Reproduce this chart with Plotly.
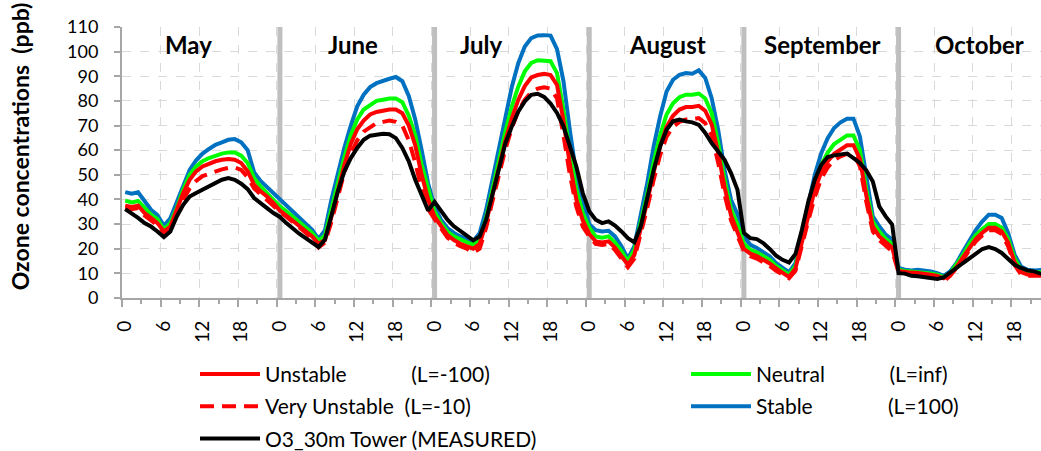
import plotly.graph_objects as go

months = ["May", "June", "July", "August", "September", "October"]
hour_labels = ["0", "6", "12", "18"]
label_hours = [0, 6, 12, 18]

stable = [
    43, 42.3, 42.9, 39.6, 35.8, 33.7, 29.3, 32.4, 39.2, 46, 52, 55.9, 58.6, 60.5, 62.2, 63.2, 64.2, 64.5, 63.2, 60, 51, 47.5, 45, 42.5,
    39.9, 37.5, 35.2, 32.4, 30.1, 27.7, 24, 27.5, 40, 51, 61, 70, 77.8, 82.5, 85.6, 87.2, 88.3, 89, 89.7, 88, 82, 72.5, 60, 46.5,
    37, 31.8, 28.4, 26.4, 25, 23.7, 23, 26.4, 35.8, 48, 60.9, 73.7, 85.9, 95.4, 102.1, 105.5, 106.6, 106.7, 106.5, 101, 88, 68, 50, 40,
    30, 27.5, 27, 27.3, 25, 21, 16, 21, 33.1, 46.6, 61.5, 73.7, 83.8, 88.6, 90.6, 91.3, 91, 92.4, 89.3, 81.1, 68.3, 52, 39.9, 34,
    25, 21.6, 20.3, 18.5, 16.9, 14.2, 12.2, 10.4, 14.2, 25.7, 38.5, 50, 58.8, 64.9, 69, 71.3, 72.8, 72.8, 65.6, 48.5, 33.1, 29.1, 25.7, 23.7,
    12.2, 11.5, 11.2, 11.5, 11.2, 10.8, 10.1, 9, 10.8, 14.2, 18.9, 23.7, 27.7, 31.1, 33.8, 33.8, 32.5, 26.4, 17.6, 12.8, 11.5, 11.2, 11.5, 11.5,
]
neutral = [
    39.5, 38.8, 39.4, 36.5, 33.8, 32, 27.7, 30.4, 36.5, 44, 50, 53.4, 55.5, 56.8, 57.9, 58.6, 59.1, 59.1, 57.8, 54.8, 48.7, 45.3, 42.6, 39.9,
    37.2, 35.2, 33.1, 30.7, 28.4, 26.4, 23.2, 25.3, 36, 47, 57, 66, 72.5, 76.5, 78.5, 80, 80.5, 81, 81, 79.5, 74, 66, 54, 44,
    35, 30.4, 27, 25, 23.7, 22.6, 21.6, 23.7, 32.5, 44.6, 56.1, 67.6, 77.8, 85.9, 92, 95.4, 96.5, 96.5, 96.1, 91.3, 76.4, 58.8, 44, 34.5,
    28.5, 25, 24.5, 25, 22.5, 19, 15, 19.5, 30, 42, 55, 66, 74.5, 79, 81.5, 82.5, 82.5, 83, 81, 75, 63, 48, 36, 30,
    22, 19.5, 18.5, 17, 15.5, 13, 11, 9.5, 13, 24, 36, 46.5, 54, 59, 62.5, 64.5, 66, 66, 60, 44, 31, 27, 24, 22,
    11.5, 11, 10.8, 10.8, 10.5, 10, 9.5, 8.5, 10, 13.5, 17.5, 22, 25.5, 28, 30, 30, 28.5, 24, 16, 11.5, 10.5, 10.5, 10.5, 10.5,
]
unstable = [
    37.5, 37, 37.5, 34.5, 32.5, 30.4, 27, 29, 35.8, 42.6, 48, 51.4, 53.4, 54.5, 55.5, 56.1, 56.4, 56.1, 54.8, 51.4, 46, 43.3, 41.2, 38.5,
    35.5, 33.5, 31.5, 29, 27, 25, 22, 23.5, 33, 44, 54, 62.5, 68.5, 72, 74.5, 75.5, 76, 76.5, 76.5, 75, 70, 62, 50, 40,
    33, 29, 25.5, 23.5, 22, 21, 20, 22, 30.5, 42, 53.5, 64, 73, 80.5, 86, 89.5, 90.5, 91, 90.5, 86.5, 72, 54, 40, 31.5,
    26, 23, 22.5, 23, 20.5, 17, 13.5, 17.5, 27.5, 39, 51, 61.5, 69.5, 74, 76.5, 77.5, 77.5, 78, 76, 70.5, 59, 45, 33.5, 27,
    20, 18, 17, 15.5, 14, 12, 10, 8.5, 12, 22.5, 34, 44, 51, 55.5, 58.5, 60.5, 62, 62, 56.5, 41.5, 29, 25, 22.5, 20.5,
    11, 10.5, 10.3, 10.2, 10, 9.5, 9, 8, 9.5, 12.5, 16.5, 20.5, 24, 26.5, 28.5, 28.5, 27, 22.5, 14.5, 10.5, 9.5, 9.5, 9.5, 9.5,
]
very_unstable = [
    36.5, 36, 36.5, 33.5, 31.5, 29.5, 26.5, 28, 34, 40, 44.5, 47.5, 49.5, 50.5, 51.5, 52.2, 52.8, 53, 52, 49, 44.5, 42, 40, 37.5,
    35, 33, 31, 28.5, 26.5, 24, 20.5, 22.5, 31, 41, 51, 58.5, 64, 67.5, 69.5, 71, 71.5, 72, 71.5, 70, 64, 55, 44, 36,
    32, 28, 24.5, 22.5, 21, 20, 18.5, 20, 28.5, 39.5, 50.5, 60.5, 69, 76, 80.5, 83.5, 85, 85.5, 85, 81, 66, 50, 37, 29,
    25, 22, 21.5, 22, 19.5, 16, 12.5, 16, 25.5, 36.5, 48, 58, 65.5, 69.5, 71.5, 72.5, 72.5, 73, 71, 66, 55, 42, 31.5, 25,
    19, 17, 16, 14.5, 13, 11, 9.5, 8, 11, 20.5, 31.5, 41, 48.5, 53, 56, 57.5, 58.5, 58.5, 53.5, 39, 27, 23.5, 21, 19,
    10.5, 10, 10, 9.8, 9.5, 9, 8.5, 6.8, 9, 12, 15.5, 19.5, 23, 25.5, 27.5, 27.5, 26, 21, 13.5, 9.5, 9, 9, 9, 9,
]
measured = [
    36.1, 34.5, 32.5, 30.4, 29, 27, 24.7, 27, 33.1, 37.8, 41.2, 42.6, 44, 45.6, 46.9, 48, 48.7, 48, 46.4, 44.2, 40.6, 38.3, 36.5, 34.5,
    32.9, 30.4, 28, 26.1, 24.3, 22.3, 20.7, 23.7, 33.8, 43.3, 51.4, 56.8, 60.9, 64.2, 65.9, 66.5, 66.7, 66.5, 64.9, 60.9, 55.5, 48, 41.2, 35.5,
    39, 35.2, 31.8, 29.1, 27.4, 25.3, 23.4, 25, 31.8, 42.6, 53.4, 62.9, 69.7, 75.7, 79.8, 82.5, 82.9, 81.6, 78.9, 75.1, 69.7, 61.5, 53.4, 42.6,
    35.2, 31.8, 30.4, 31.1, 29.4, 27, 24.3, 22.6, 29.1, 40.6, 52, 61.5, 68.3, 71.7, 72.4, 71.7, 71.3, 70.3, 67, 62.9, 59.5, 56.1, 50.7, 43.9,
    26.4, 24.3, 23.9, 22.3, 19.9, 17.2, 15.5, 14.4, 17.9, 27.7, 39.2, 48, 54.1, 57.2, 57.9, 58.2, 58.6, 56.8, 54.8, 51.8, 47.3, 37.2, 33.1, 29.8,
    10.1, 9.9, 9, 8.8, 8.5, 8.1, 7.7, 8.4, 10.1, 12.2, 14.2, 16.2, 18.3, 19.9, 20.7, 19.9, 18.3, 15.8, 13.5, 12.2, 11.2, 10.8, 9.9, 9.5,
]

n = len(measured)
x = list(range(n))
FONT = "Lato"
NB = "\u00a0"

fig = go.Figure()
# invisible trace that anchors the tick/grid axis
fig.add_trace(go.Scatter(x=[None], y=[None], xaxis="x", yaxis="y", showlegend=False, hoverinfo="skip"))

# (legend name, values, colour, dash, legend id, rank)
series = [
    ("Stable" + NB * 14 + "(L=100)", stable, "#0070C0", "solid", "legend2", 2),
    ("Neutral" + NB * 12 + "(L=inf)", neutral, "#00FF00", "solid", "legend2", 1),
    ("Unstable" + NB * 12 + "(L=-100)", unstable, "#FF0000", "solid", "legend", 1),
    ("Very Unstable" + NB * 2 + "(L=-10)", very_unstable, "#FF0000", "14px,8px", "legend", 2),
    ("O3_30m Tower (MEASURED)", measured, "#000000", "solid", "legend", 3),
]
for i, (name, vals, color, dash, leg, rank) in enumerate(series):
    fig.add_trace(go.Scatter(
        x=x, y=vals, name=name, mode="lines", xaxis="x2", yaxis="y",
        line=dict(color=color, width=4, dash=dash), legend=leg, legendrank=rank,
        legendgroup="g%d" % i,
    ))

tickvals = [24 * m + h for m in range(len(months)) for h in label_hours]
ticktext = [hour_labels[i % 4] for i in range(len(tickvals))]
xr = [-0.5, 142.1]

shapes = []
for m in range(1, len(months)):
    shapes.append(dict(type="line", xref="x", yref="y", x0=24 * m, x1=24 * m, y0=0, y1=110,
                       line=dict(color="#BFBFBF", width=5), layer="between"))

month_pos = [9.8, 35.3, 55.2, 84.2, 108.2, 132.5]
annotations = []
for name, px in zip(months, month_pos):
    annotations.append(dict(x=px, y=102.8, xref="x", yref="y", text=name, showarrow=False,
                            xanchor="center", yanchor="middle",
                            font=dict(family=FONT, size=24, color="black", weight="bold")))
annotations.append(dict(x=-0.111, y=0.56, xref="paper", yref="paper", text="Ozone concentrations" + NB * 2 + "(ppb)",
                        textangle=-90, showarrow=False, xanchor="center", yanchor="middle",
                        font=dict(family=FONT, size=23, color="black", weight="bold")))

legend_common = dict(orientation="v", yanchor="top", xanchor="left", itemwidth=60,
                     tracegroupgap=2, font=dict(family=FONT, size=21, color="black"),
                     bgcolor="rgba(0,0,0,0)", borderwidth=0)

fig.update_layout(
    width=1041, height=451,
    margin=dict(l=122, r=0, t=27, b=153, autoexpand=False),
    plot_bgcolor="white", paper_bgcolor="white",
    shapes=shapes, annotations=annotations,
    xaxis=dict(range=xr, tickmode="linear", tick0=-0.5, dtick=6, showticklabels=False,
               ticks="outside", ticklen=7, tickwidth=2, tickcolor="#A6A6A6",
               showgrid=True, gridcolor="#D9D9D9", gridwidth=1.3, griddash="dash",
               showline=True, linecolor="#A6A6A6", linewidth=2, zeroline=False,
               minor=dict(tick0=-0.5, dtick=3, ticks="outside", ticklen=4, tickwidth=2,
                          tickcolor="#A6A6A6", showgrid=False)),
    xaxis2=dict(range=xr, overlaying="x", anchor="y", side="bottom",
                tickmode="array", tickvals=tickvals, ticktext=ticktext, tickangle=-90,
                ticks="", showgrid=False, showline=False, zeroline=False, ticklabelstandoff=18,
                tickfont=dict(family=FONT, size=19, color="black")),
    yaxis=dict(range=[0, 110], tickmode="linear", tick0=0, dtick=10,
               ticks="outside", ticklen=6, tickwidth=2, tickcolor="#A6A6A6",
               showgrid=True, gridcolor="#D9D9D9", gridwidth=1.3, griddash="dash",
               showline=True, linecolor="#A6A6A6", linewidth=2, zeroline=False,
               ticklabelstandoff=12, tickfont=dict(family=FONT, size=18, color="black")),
    legend=dict(x=(195 - 122) / 919, y=-0.206, **legend_common),
    legend2=dict(x=(686 - 122) / 919, y=-0.206, **legend_common),
    showlegend=True,
)

fig.write_html("out.html")
